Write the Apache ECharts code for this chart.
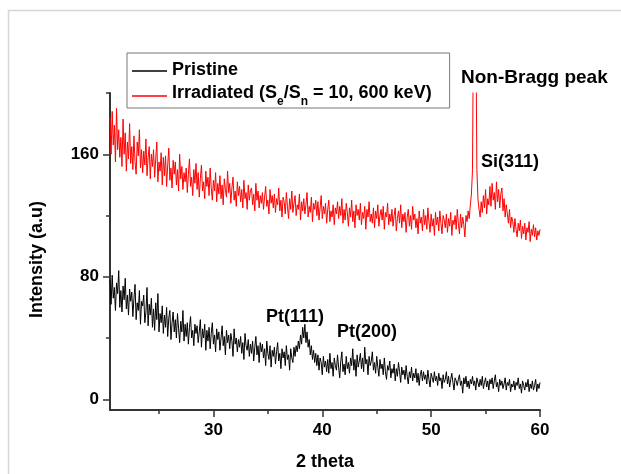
<!DOCTYPE html>
<html>
<head>
<meta charset="utf-8">
<title>XRD pristine vs irradiated</title>
<script src="https://cdn.jsdelivr.net/npm/echarts@6/dist/echarts.min.js"></script>
<style>
  html, body { margin: 0; padding: 0; background: #fff; }
  #chart { width: 621px; height: 474px; }
</style>
</head>
<body>
<div id="chart"></div>
<script>
// 2 theta scan, 20.5 -> 60.0 deg, one reading every 0.1 deg
const thetaStart = 20.5
const thetaStep = 0.1

const seriesNames = ['Pristine', 'Irradiated (Se/Sn = 10, 600 keV)']

// intensities, one row per degree
const pristine = [
  78, 62, 81, 66, 73, 58, 76, 69, 84, 60,
  71, 57, 74, 65, 79, 59, 68, 55, 72, 64,
  70, 54, 66, 75, 52, 63, 58, 71, 49, 64,
  61, 68, 50, 57, 73, 48, 62, 55, 66, 47,
  59, 45, 63, 52, 69, 44, 56, 50, 61, 43,
  55, 47, 60, 41, 53, 58, 39, 50, 57, 44,
  52, 40, 56, 46, 37, 51, 44, 58, 38, 49,
  41, 50, 36, 47, 54, 40, 45, 35, 49, 43,
  48, 37, 44, 52, 34, 46, 40, 49, 32, 45,
  38, 47, 33, 43, 50, 36, 42, 31, 46, 39,
  44, 32, 40, 48, 35, 41, 29, 45, 37, 42,
  33, 43, 38, 28, 46, 36, 40, 31, 39, 34,
  41, 30, 37, 26, 43, 35, 32, 39, 28, 36,
  30, 38, 25, 34, 41, 29, 35, 24, 37, 31,
  36, 27, 33, 22, 38, 30, 26, 35, 21, 32,
  28, 34, 23, 31, 37, 25, 30, 20, 33, 27,
  31, 22, 35, 26, 29, 19, 33, 27, 24, 34,
  28, 35, 31, 38, 33, 42, 36, 47, 40, 49,
  37, 44, 34, 39, 29, 35, 26, 32, 24, 30,
  22, 29, 19, 27, 24, 16, 28, 21, 25, 18,
  26, 17, 30, 20, 24, 15, 27, 22, 19, 29,
  21, 14, 25, 31, 18, 23, 16, 28, 20, 24,
  17, 27, 22, 33, 19, 26, 15, 29, 21, 25,
  30, 20, 27, 18, 34, 23, 26, 16, 28, 22,
  25, 31, 19, 24, 17, 28, 21, 15, 26, 20,
  23, 16, 27, 18, 13, 22, 19, 25, 14, 20,
  17, 23, 12, 20, 15, 24, 18, 11, 21, 16,
  19, 13, 22, 15, 10, 18, 14, 21, 12, 17,
  14, 20, 11, 17, 9, 16, 19, 12, 18, 13,
  16, 10, 19, 13, 8, 17, 14, 11, 18, 12,
  15, 9, 17, 12, 14, 7, 16, 11, 13, 18,
  10, 15, 8, 13, 17, 11, 6, 14, 12, 9,
  13, 16, 9, 12, 4, 14, 10, 15, 8, 12,
  7, 13, 10, 15, 9, 12, 6, 14, 11, 8,
  13, 9, 15, 7, 11, 14, 8, 12, 6, 13,
  10, 14, 7, 12, 16, 8, 11, 5, 13, 9,
  12, 7, 10, 14, 6, 11, 9, 13, 5, 10,
  8, 12, 6, 11, 9, 14, 7, 10, 4, 12,
  9, 6, 11, 8, 13, 5, 10, 7, 12, 6,
  9, 13, 5, 10, 7, 11
]

const irradiated = [
  184, 160, 188, 166, 179, 155, 190, 163, 176, 158,
  171, 152, 183, 160, 174, 149, 168, 157, 180, 154,
  165, 150, 172, 155, 147, 168, 159, 176, 151, 163,
  148, 162, 153, 170, 146, 158, 165, 144, 160, 152,
  163, 145, 157, 168, 142, 155, 149, 161, 140, 158,
  146, 159, 139, 153, 164, 143, 151, 138, 156, 147,
  155, 140, 150, 136, 160, 144, 152, 137, 148, 142,
  151, 135, 147, 157, 139, 145, 133, 150, 141, 154,
  137, 148, 132, 144, 153, 136, 142, 131, 149, 139,
  145, 133, 151, 138, 130, 143, 136, 148, 129, 141,
  134, 146, 131, 140, 127, 144, 137, 132, 149, 135,
  141, 128, 138, 145, 130, 136, 126, 142, 133, 139,
  129, 137, 125, 143, 131, 135, 124, 140, 130, 136,
  138, 127, 134, 123, 141, 130, 136, 125, 133, 128,
  135, 124, 132, 139, 126, 130, 121, 137, 128, 133,
  125, 134, 122, 131, 127, 138, 123, 130, 119, 132,
  129, 121, 135, 126, 118, 131, 124, 136, 122, 128,
  133, 120, 127, 124, 134, 117, 129, 123, 131, 121,
  127, 135, 119, 126, 122, 132, 116, 128, 124, 130,
  120, 129, 117, 125, 133, 118, 126, 121, 128, 115,
  124, 130, 116, 123, 119, 127, 114, 125, 121, 129,
  118, 126, 120, 131, 115, 124, 117, 128, 122, 113,
  125, 119, 130, 116, 123, 112, 127, 120, 124, 117,
  128, 114, 122, 118, 126, 111, 124, 119, 129, 116,
  121, 115, 125, 112, 123, 118, 127, 113, 120, 124,
  117, 126, 111, 122, 119, 128, 114, 121, 116, 124,
  113, 120, 125, 110, 118, 123, 115, 127, 112, 121,
  116, 122, 109, 119, 124, 113, 120, 111, 126, 117,
  121, 112, 118, 108, 123, 115, 119, 110, 124, 114,
  120, 111, 125, 116, 109, 121, 113, 118, 107, 122,
  114, 119, 110, 123, 115, 108, 120, 117, 112, 121,
  109, 118, 113, 122, 107, 117, 114, 120, 111, 124,
  115, 108, 121, 112, 119, 114, 106, 120, 116, 123,
  118, 127, 134, 150, 262, 270, 255, 150, 131, 124,
  119, 129, 122, 133, 125, 137, 121, 131, 127, 139,
  126, 141, 130, 135, 124, 142, 129, 137, 125, 134,
  138, 123, 131, 119, 127, 121, 115, 124, 112, 119,
  116, 109, 118, 111, 106, 115, 110, 117, 105, 113,
  108, 115, 104, 112, 109, 116, 103, 111, 107, 114,
  106, 112, 104, 110, 107, 111
]

const xMajorTicks = [30, 40, 50, 60]
const xMinorTicks = [25, 35, 45, 55]
const yMajorTicks = [0, 80, 160]
const yMinorTicks = [40, 120, 200]

const peakNames = ['Non-Bragg peak', 'Si(311)', 'Pt(111)', 'Pt(200)']

const FONT = '"Liberation Sans", Arial, sans-serif'
const AXIS_COLOR = '#333'

const toPoints = arr => arr.map((v, i) => [+(thetaStart + i * thetaStep).toFixed(1), v])

const boldText = size => ({
  fontFamily: FONT,
  fontWeight: 'bold',
  fontSize: size,
  color: '#000'
})

const xBase = {
  type: 'value',
  min: 20.5,
  max: 60,
  position: 'bottom',
  splitLine: { show: false }
}
const yBase = {
  type: 'value',
  min: -7,
  max: 200,
  position: 'left',
  splitLine: { show: false }
}

const option = {
  animation: false,
  backgroundColor: '#fff',
  // keep the plot box where it is, labels may sit outside
  grid: { left: 110, right: 81, top: 93, bottom: 64, outerBoundsMode: 'none' },
  legend: {
    orient: 'vertical',
    left: 127,
    top: 53,
    padding: [8, 18, 0, 5],
    itemGap: 5,
    itemWidth: 35,
    itemHeight: 1.5,
    icon: 'rect',
    borderColor: '#777',
    borderWidth: 1,
    data: seriesNames,
    textStyle: {
      rich: {
        b: { ...boldText(18), lineHeight: 20, verticalAlign: 'top' },
        s: { ...boldText(12), lineHeight: 24, verticalAlign: 'bottom' }
      }
    },
    formatter: name => name === seriesNames[0]
      ? '{b|Pristine}'
      : '{b|Irradiated (S}{s|e}{b|/S}{s|n}{b| = 10, 600 keV)}'
  },
  xAxis: [
    {
      ...xBase,
      name: '2 theta',
      nameLocation: 'middle',
      nameGap: 43,
      nameTextStyle: boldText(18),
      axisLine: { show: true, onZero: false, lineStyle: { color: AXIS_COLOR, width: 2 } },
      axisTick: { show: true, length: 7, customValues: xMajorTicks, lineStyle: { color: AXIS_COLOR, width: 1.5 } },
      axisLabel: { customValues: xMajorTicks, margin: 12, ...boldText(17) }
    },
    {
      // minor ticks only
      ...xBase,
      axisLine: { show: false, onZero: false },
      axisTick: { show: true, length: 4, customValues: xMinorTicks, lineStyle: { color: AXIS_COLOR, width: 1.5 } },
      axisLabel: { show: false }
    }
  ],
  yAxis: [
    {
      ...yBase,
      name: 'Intensity (a.u)',
      nameLocation: 'middle',
      nameGap: 64,
      nameTextStyle: { ...boldText(18), padding: [0, 16, 0, 0] },
      axisLine: { show: true, onZero: false, lineStyle: { color: AXIS_COLOR, width: 2 } },
      axisTick: { show: true, length: 7, customValues: yMajorTicks, lineStyle: { color: AXIS_COLOR, width: 1.5 } },
      axisLabel: { customValues: yMajorTicks, margin: 11, ...boldText(17) }
    },
    {
      ...yBase,
      axisLine: { show: false, onZero: false },
      axisTick: { show: true, length: 4, customValues: yMinorTicks, lineStyle: { color: AXIS_COLOR, width: 1.5 } },
      axisLabel: { show: false }
    }
  ],
  series: [
    {
      name: seriesNames[0],
      type: 'line',
      data: toPoints(pristine),
      symbol: 'none',
      color: '#000',
      lineStyle: { width: 1 }
    },
    {
      name: seriesNames[1],
      type: 'line',
      data: toPoints(irradiated),
      symbol: 'none',
      color: '#ff0000',
      lineStyle: { width: 1 }
    }
  ],
  graphic: [
    {
      // faint frame of the original figure
      type: 'rect',
      silent: true,
      z: -10,
      shape: { x: 8.5, y: 10.5, width: 700, height: 700 },
      style: { fill: 'none', stroke: '#d6d6d6', lineWidth: 1.5 }
    },
    { type: 'text', left: 461, top: 68, style: { text: peakNames[0], font: 'bold 19px ' + FONT, fill: '#000' } },
    { type: 'text', left: 481, top: 153, style: { text: peakNames[1], font: 'bold 18px ' + FONT, fill: '#000' } },
    { type: 'text', left: 266, top: 308, style: { text: peakNames[2], font: 'bold 18px ' + FONT, fill: '#000' } },
    { type: 'text', left: 337, top: 323, style: { text: peakNames[3], font: 'bold 18px ' + FONT, fill: '#000' } }
  ]
}

const myChart = echarts.init(document.getElementById('chart'), null, { renderer: 'canvas' })
myChart.setOption(option)
window.addEventListener('resize', function () {
  myChart && myChart.resize()
})
</script>
</body>
</html>
